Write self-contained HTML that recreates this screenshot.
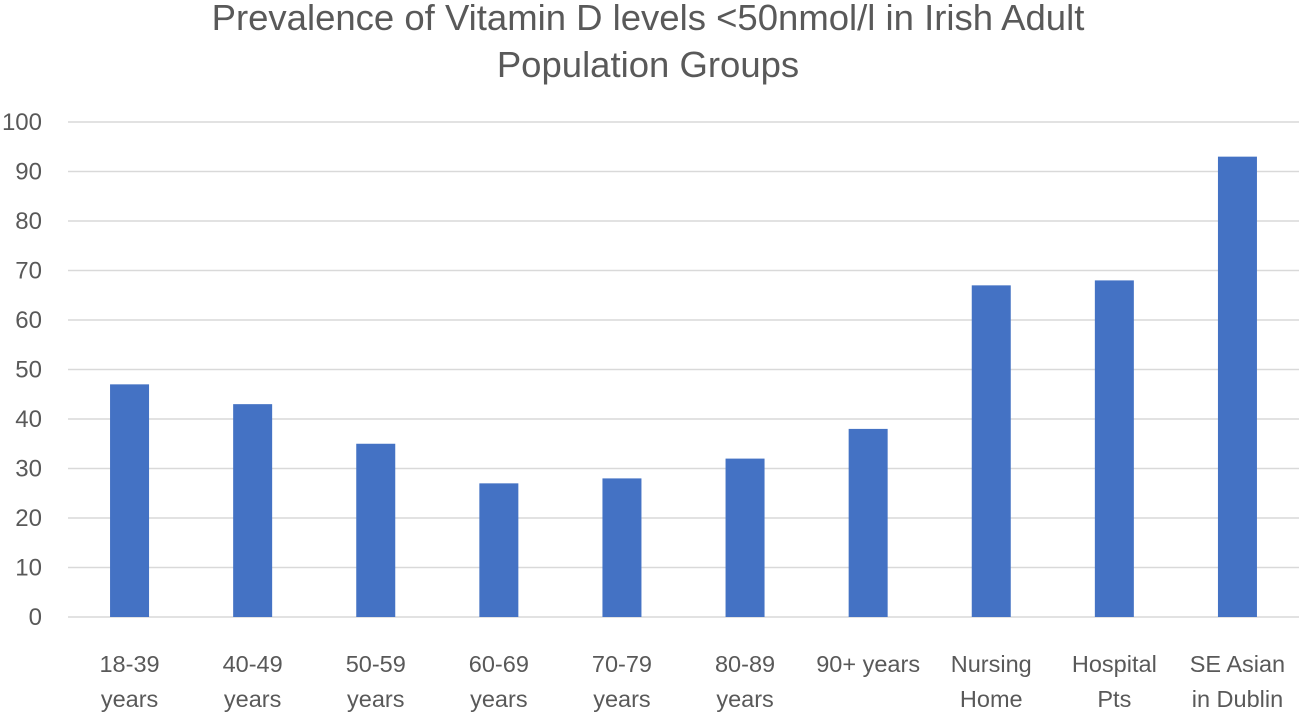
<!DOCTYPE html>
<html><head><meta charset="utf-8"><style>
html,body{margin:0;padding:0;background:#fff;}
svg{display:block;font-family:"Liberation Sans",sans-serif;}
</style></head><body>
<svg id="chart" width="1299" height="713">
<text x="648" y="30" text-anchor="middle" font-size="36.5" fill="#595959">Prevalence of Vitamin D levels &lt;50nmol/l in Irish Adult</text>
<text x="648" y="77" text-anchor="middle" font-size="36.5" fill="#595959">Population Groups</text>
<g id="grid"></g><g id="bars"></g><g id="ylabels"></g><g id="xlabels"></g>
</svg>
<script>
const categories = [["18-39","years"],["40-49","years"],["50-59","years"],["60-69","years"],["70-79","years"],["80-89","years"],["90+ years"],["Nursing","Home"],["Hospital","Pts"],["SE Asian","in Dublin"]];
const values = [47,43,35,27,28,32,38,67,68,93];
const yTicks = [0,10,20,30,40,50,60,70,80,90,100];

const NS="http://www.w3.org/2000/svg";
const x0=68, x1=1299, yBase=617, yTop=122, yMax=100;
const band=(x1-x0)/categories.length, barW=39;
const y=v=>yBase-(v/yMax)*(yBase-yTop);
const xc=i=>x0+band*(i+0.5);
function mk(tag,attrs,parent){const e=document.createElementNS(NS,tag);for(const k in attrs)e.setAttribute(k,attrs[k]);parent.appendChild(e);return e;}
const grid=document.getElementById('grid'),bars=document.getElementById('bars'),yl=document.getElementById('ylabels'),xl=document.getElementById('xlabels');
yTicks.forEach(t=>{
  const l=mk('line',{x1:x0,x2:x1,y1:y(t),y2:y(t),stroke:'#d9d9d9','stroke-width':1.5},grid);
  
  
  const tx=mk('text',{x:42,y:y(t)+8,'text-anchor':'end','font-size':24,fill:'#595959'},yl);
  tx.textContent=t;
  
  
});
values.forEach((v,i)=>{
  const r=mk('rect',{x:xc(i)-barW/2,y:y(v),width:barW,height:yBase-y(v),fill:'#4472C4'},bars);
  
  
});
categories.forEach((c,i)=>{
  c.forEach((line,j)=>{
    const tx=mk('text',{x:xc(i),y:672+j*35,'text-anchor':'middle','font-size':23.5,fill:'#595959'},xl);
    tx.textContent=line;
    
    
  });
});
</script>
</body></html>
